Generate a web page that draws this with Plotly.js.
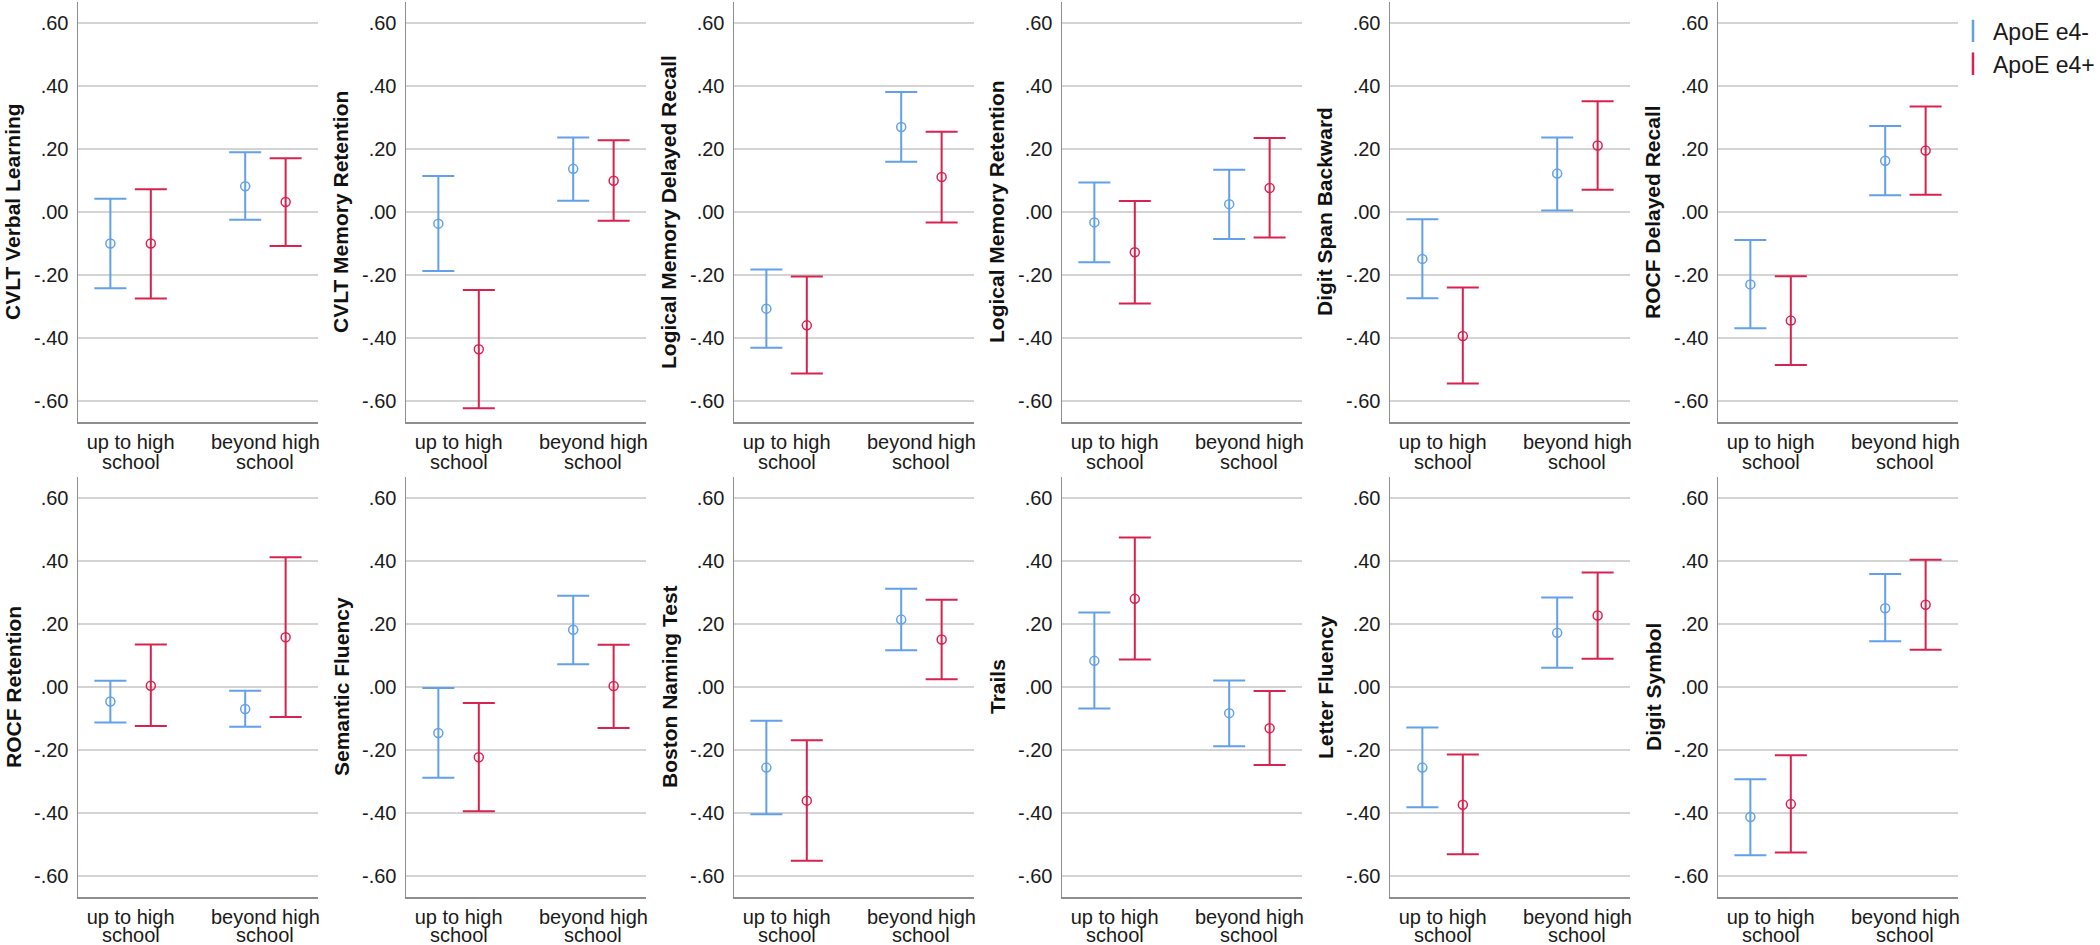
<!DOCTYPE html>
<html>
<head>
<meta charset="utf-8">
<script src="https://cdn.plot.ly/plotly-3.0.1.min.js"></script>
<style>
  body { margin: 0; background: #fff; }
  #plot { width: 2100px; height: 945px; }
</style>
</head>
<body>
<div id="plot"></div>
<script>
// panel order: two rows of six
const tests = [
  "CVLT Verbal Learning", "CVLT Memory Retention", "Logical Memory Delayed Recall",
  "Logical Memory Retention", "Digit Span Backward", "ROCF Delayed Recall",
  "ROCF Retention", "Semantic Fluency", "Boston Naming Test",
  "Trails", "Letter Fluency", "Digit Symbol"
];
// x categories (first line of label, second line is "school")
const educ = ["up to high", "beyond high"];
const yTickVals = [-0.6, -0.4, -0.2, 0, 0.2, 0.4, 0.6];
const yTickText = ["-.60", "-.40", "-.20", ".00", ".20", ".40", ".60"];

// ApoE e4-  : [up to high school, beyond high school] per test
const negMean = [[-0.100, 0.082], [-0.037, 0.137], [-0.307, 0.270], [-0.033, 0.025], [-0.149, 0.122], [-0.230, 0.163],
                 [-0.046, -0.070], [-0.146, 0.182], [-0.256, 0.214], [0.083, -0.083], [-0.256, 0.172], [-0.413, 0.250]];
const negLow  = [[-0.242, -0.025], [-0.187, 0.036], [-0.431, 0.160], [-0.160, -0.086], [-0.274, 0.005], [-0.369, 0.053],
                 [-0.113, -0.126], [-0.288, 0.072], [-0.404, 0.117], [-0.068, -0.188], [-0.382, 0.061], [-0.534, 0.145]];
const negHigh = [[0.042, 0.190], [0.114, 0.237], [-0.183, 0.381], [0.094, 0.134], [-0.023, 0.237], [-0.089, 0.273],
                 [0.020, -0.012], [-0.003, 0.290], [-0.107, 0.312], [0.237, 0.021], [-0.129, 0.284], [-0.293, 0.359]];

// ApoE e4+
const posMean = [[-0.100, 0.032], [-0.436, 0.099], [-0.360, 0.111], [-0.128, 0.076], [-0.394, 0.211], [-0.345, 0.195],
                 [0.004, 0.158], [-0.223, 0.003], [-0.361, 0.151], [0.280, -0.131], [-0.374, 0.227], [-0.372, 0.261]];
const posLow  = [[-0.275, -0.108], [-0.623, -0.028], [-0.513, -0.033], [-0.291, -0.081], [-0.545, 0.071], [-0.486, 0.055],
                 [-0.124, -0.095], [-0.395, -0.130], [-0.552, 0.025], [0.087, -0.248], [-0.531, 0.090], [-0.526, 0.118]];
const posHigh = [[0.072, 0.171], [-0.248, 0.228], [-0.205, 0.255], [0.035, 0.235], [-0.240, 0.352], [-0.204, 0.335],
                 [0.135, 0.412], [-0.051, 0.134], [-0.169, 0.277], [0.475, -0.013], [-0.214, 0.364], [-0.217, 0.404]];

const W = 2100, H = 945;
const blue = "#62a1ea", red = "#d8224f";
const font = "Arial, 'Liberation Sans', sans-serif";
const dodge = 0.15;

const series = [
  { name: "ApoE e4-", color: blue, mean: negMean, low: negLow, high: negHigh, shift: -dodge },
  { name: "ApoE e4+", color: red, mean: posMean, low: posLow, high: posHigh, shift: dodge }
];

const traces = [];
const layout = {
  width: W, height: H,
  margin: { l: 0, r: 0, t: 0, b: 0 },
  paper_bgcolor: "#fff", plot_bgcolor: "#fff",
  font: { family: font, color: "#1a1a1a" },
  showlegend: true,
  legend: {
    x: 0.93, y: 0.99, xanchor: "left", yanchor: "top",
    font: { size: 23, family: font, color: "#1a1a1a" },
    bgcolor: "rgba(0,0,0,0)", itemwidth: 30, tracegroupgap: 0
  },
  annotations: []
};

tests.forEach((name, i) => {
  const r = Math.floor(i / 6), c = i % 6;
  const n = i === 0 ? "" : String(i + 1);
  const left = 78 + c * 328;
  const top = r === 0 ? 2 : 477, bottom = r === 0 ? 422 : 897;
  const yDom = [1 - bottom / H, 1 - top / H];

  layout["xaxis" + n] = {
    domain: [left / W, (left + 240) / W],
    anchor: "y" + n,
    range: [-0.39, 1.39],
    tickvals: [0, 1], ticktext: educ,
    ticks: "", ticklabelstandoff: 1,
    tickfont: { size: 20, family: font, color: "#1a1a1a" },
    showgrid: false, zeroline: false,
    showline: true, linecolor: "#8e8e8e", linewidth: 1.5,
    fixedrange: true
  };
  layout["yaxis" + n] = {
    domain: yDom,
    anchor: "x" + n,
    range: [-0.667, 0.667],
    tickvals: yTickVals, ticktext: yTickText,
    ticks: "", ticklabelstandoff: 4,
    tickfont: { size: 20, family: font, color: "#1a1a1a" },
    showgrid: true, gridcolor: "#d4d4d4", gridwidth: 1.5,
    zeroline: false,
    showline: true, linecolor: "#8e8e8e", linewidth: 1.5,
    fixedrange: true
  };

  // y title
  layout.annotations.push({
    xref: "paper", yref: "paper",
    x: (left - 65) / W, y: (yDom[0] + yDom[1]) / 2,
    text: name, textangle: -90, showarrow: false,
    xanchor: "center", yanchor: "middle",
    font: { size: 21, family: font, color: "#111", weight: "bold" }
  });
  // second line of category labels
  [0, 1].forEach(k => {
    layout.annotations.push({
      xref: "x" + n, yref: "paper",
      x: k, y: yDom[0], yshift: r === 0 ? -40 : -38,
      text: "school", showarrow: false,
      xanchor: "center", yanchor: "middle",
      font: { size: 20, family: font, color: "#1a1a1a" }
    });
  });

  series.forEach(s => {
    const mean = s.mean[i], low = s.low[i], high = s.high[i];
    traces.push({
      type: "scatter", mode: "markers",
      name: s.name, showlegend: false,
      xaxis: "x" + n, yaxis: "y" + n,
      x: [0 + s.shift, 1 + s.shift],
      y: mean,
      marker: { symbol: "circle-open", size: 9, color: s.color, line: { width: 1.5, color: s.color } },
      error_y: {
        type: "data", symmetric: false,
        array: mean.map((m, k) => high[k] - m),
        arrayminus: mean.map((m, k) => m - low[k]),
        color: s.color, thickness: 2, width: 16
      },
      hoverinfo: "y"
    });
  });
});

// legend entries (error bar glyph)
series.forEach(s => {
  traces.push({
    type: "scatter", mode: "markers",
    name: s.name, showlegend: true,
    xaxis: "x6", yaxis: "y6",
    x: [null], y: [null],
    marker: { symbol: "line-ns-open", size: 20, color: s.color, line: { width: 2.5, color: s.color } }
  });
});

Plotly.newPlot("plot", traces, layout, { displayModeBar: false, staticPlot: true });
</script>
</body>
</html>
